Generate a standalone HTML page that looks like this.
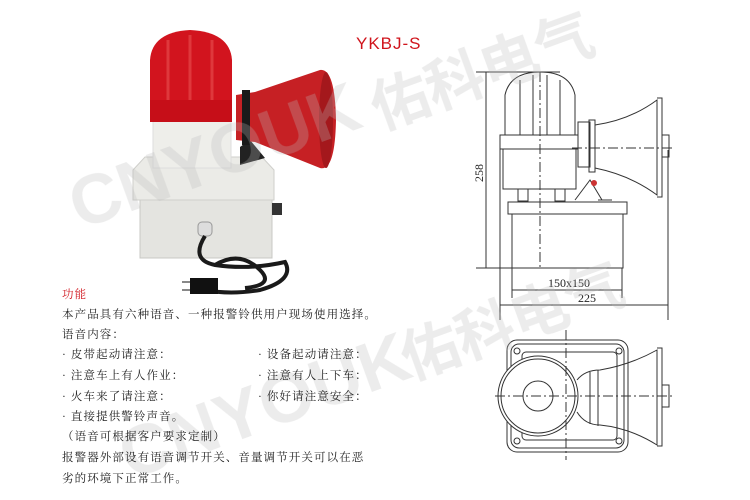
<!DOCTYPE html>
<html><head><meta charset="utf-8"><style>
body{margin:0;width:750px;height:500px;background:#fff;overflow:hidden;position:relative;font-family:"Liberation Sans","Noto Sans CJK SC",sans-serif}
.t{position:absolute;font-family:"Liberation Serif","Noto Serif CJK SC",serif;font-size:11.5px;color:#222;letter-spacing:1.1px;white-space:nowrap}
</style></head><body>
<svg width="750" height="500" style="position:absolute;left:0;top:0">
<!-- photo -->
<rect x="140" y="195" width="132" height="63" fill="#e4e4e0" stroke="#c8c8c4"/>
<path d="M133 170 L145 157 L262 157 L274 170 L274 200 L133 200 Z" fill="#ebebe7" stroke="#cfcfcb"/>
<rect x="272" y="203" width="10" height="12" fill="#333"/>
<rect x="153" y="120" width="78" height="48" fill="#eeeeea" stroke="#ddd"/>
<path d="M150 120 L150 60 Q152 32 190 30 Q230 32 232 60 L232 120 Z" fill="#d2141e"/>
<rect x="150" y="100" width="82" height="22" fill="#c60e18"/>
<path d="M168 40 L168 100 M190 35 L190 100 M212 40 L212 100" stroke="#e85050" stroke-width="3" opacity=".6"/>
<path d="M240 147 L250 140 L265 158 L240 165 Z" fill="#222"/>
<path d="M236 95 L255 92 L320 70 Q335 68 336 120 Q335 172 320 168 L255 142 L236 140 Z" fill="#c62024"/>
<rect x="242" y="90" width="8" height="55" fill="#1a1a1a"/>
<ellipse cx="326" cy="120" rx="7" ry="48" fill="#a4181c"/>
<rect x="198" y="222" width="14" height="14" rx="4" fill="#ddd" stroke="#999"/>
<path d="M205 236 Q190 260 215 265 Q250 270 285 262 Q295 280 260 290 Q230 295 205 290 M215 265 Q240 250 260 270 Q275 285 245 288" stroke="#1a1a1a" stroke-width="4" fill="none"/>
<rect x="190" y="278" width="28" height="16" fill="#111"/>
<path d="M182 282 L190 282 M182 290 L190 290" stroke="#888" stroke-width="2"/>
<!-- drawing side -->
<g stroke="#333" stroke-width="1" fill="none">
<path d="M476 72 L560 72 M476 268 L512 268 M486 72 L486 268"/>
<path d="M505 135 L505 95 Q510 72 540 72 Q570 72 575 95 L575 135"/>
<path d="M520 135 L520 80 M533 135 L533 75 M547 135 L547 75 M560 135 L560 80"/>
<rect x="500" y="135" width="78" height="14"/>
<rect x="503" y="149" width="73" height="40"/>
<rect x="518" y="189" width="10" height="12"/><rect x="555" y="189" width="10" height="12"/>
<rect x="508" y="202" width="119" height="12"/>
<rect x="512" y="214" width="111" height="54"/>
<rect x="578" y="122" width="12" height="45"/><rect x="589" y="120" width="6" height="52"/>
<path d="M595 125 Q630 120 657 100 L657 195 Q630 175 595 168"/>
<path d="M657 98 L662 98 L662 197 L657 197"/><rect x="662" y="135" width="7" height="22"/>
<path d="M575 200 L590 180 L602 200 M598 200 L612 200"/>
<path d="M540 72 L540 268 M572 148 L675 148" stroke-dasharray="10 3 2 3"/>
<path d="M500 140 L500 320 M668 150 L668 320 M512 268 L512 298 M622 268 L622 298 M512 290 L622 290 M500 305 L668 305"/>
</g>
<circle cx="594" cy="183" r="3" fill="#c33"/>
<g font-family="Liberation Serif,serif" font-size="12" fill="#222">
<text x="548" y="287">150x150</text><text x="578" y="302">225</text>
<text x="0" y="0" transform="translate(483 182) rotate(-90)">258</text>
</g>
<!-- drawing top -->
<g stroke="#333" stroke-width="1" fill="none">
<rect x="507" y="340" width="121" height="112" rx="10"/>
<rect x="511" y="344" width="113" height="104" rx="8"/>
<rect x="522" y="352" width="95" height="88" rx="4"/>
<circle cx="538" cy="396" r="40" fill="#fff"/><circle cx="538" cy="396" r="37"/><circle cx="538" cy="396" r="15"/>
<path d="M577 380 Q585 370 600 370 Q630 365 657 350 L657 445 Q630 428 600 425 Q585 425 577 412"/>
<path d="M590 372 L590 424 M598 370 L598 426 M657 348 L662 348 L662 446 L657 446"/><rect x="662" y="385" width="7" height="22"/>
<path d="M495 396 L675 396 M566 330 L566 460" stroke-dasharray="10 3 2 3"/>
<circle cx="517" cy="351" r="3"/><circle cx="619" cy="351" r="3"/><circle cx="517" cy="441" r="3"/><circle cx="619" cy="441" r="3"/>
</g>
<!-- watermarks -->
<g fill="#bbb" font-family="Liberation Sans,sans-serif" font-weight="bold" opacity=".28">
<text x="80" y="230" font-size="70" transform="rotate(-20 80 230)">CNYOUK</text>
<text x="380" y="130" font-size="58" font-family="Noto Sans CJK SC,sans-serif" transform="rotate(-20 380 130)">佑科电气</text>
<text x="130" y="480" font-size="70" transform="rotate(-20 130 480)">CNYOUK</text>
<text x="410" y="380" font-size="58" font-family="Noto Sans CJK SC,sans-serif" transform="rotate(-20 410 380)">佑科电气</text>
</g>
</svg>
<div style="position:absolute;left:356px;top:34px;color:#d0141c;font-size:17px;letter-spacing:1px">YKBJ-S</div>
<div class="t" style="left:62px;top:286px;color:#d0141c">功能</div>
<div class="t" style="left:62px;top:306px">本产品具有六种语音、一种报警铃供用户现场使用选择。</div>
<div class="t" style="left:62px;top:326px">语音内容：</div>
<div class="t" style="left:62px;top:346px">· 皮带起动请注意：</div>
<div class="t" style="left:258px;top:346px">· 设备起动请注意：</div>
<div class="t" style="left:62px;top:367px">· 注意车上有人作业：</div>
<div class="t" style="left:258px;top:367px">· 注意有人上下车：</div>
<div class="t" style="left:62px;top:388px">· 火车来了请注意：</div>
<div class="t" style="left:258px;top:388px">· 你好请注意安全：</div>
<div class="t" style="left:62px;top:408px">· 直接提供警铃声音。</div>
<div class="t" style="left:62px;top:428px">（语音可根据客户要求定制）</div>
<div class="t" style="left:62px;top:449px">报警器外部设有语音调节开关、音量调节开关可以在恶</div>
<div class="t" style="left:62px;top:470px">劣的环境下正常工作。</div>
</body></html>
